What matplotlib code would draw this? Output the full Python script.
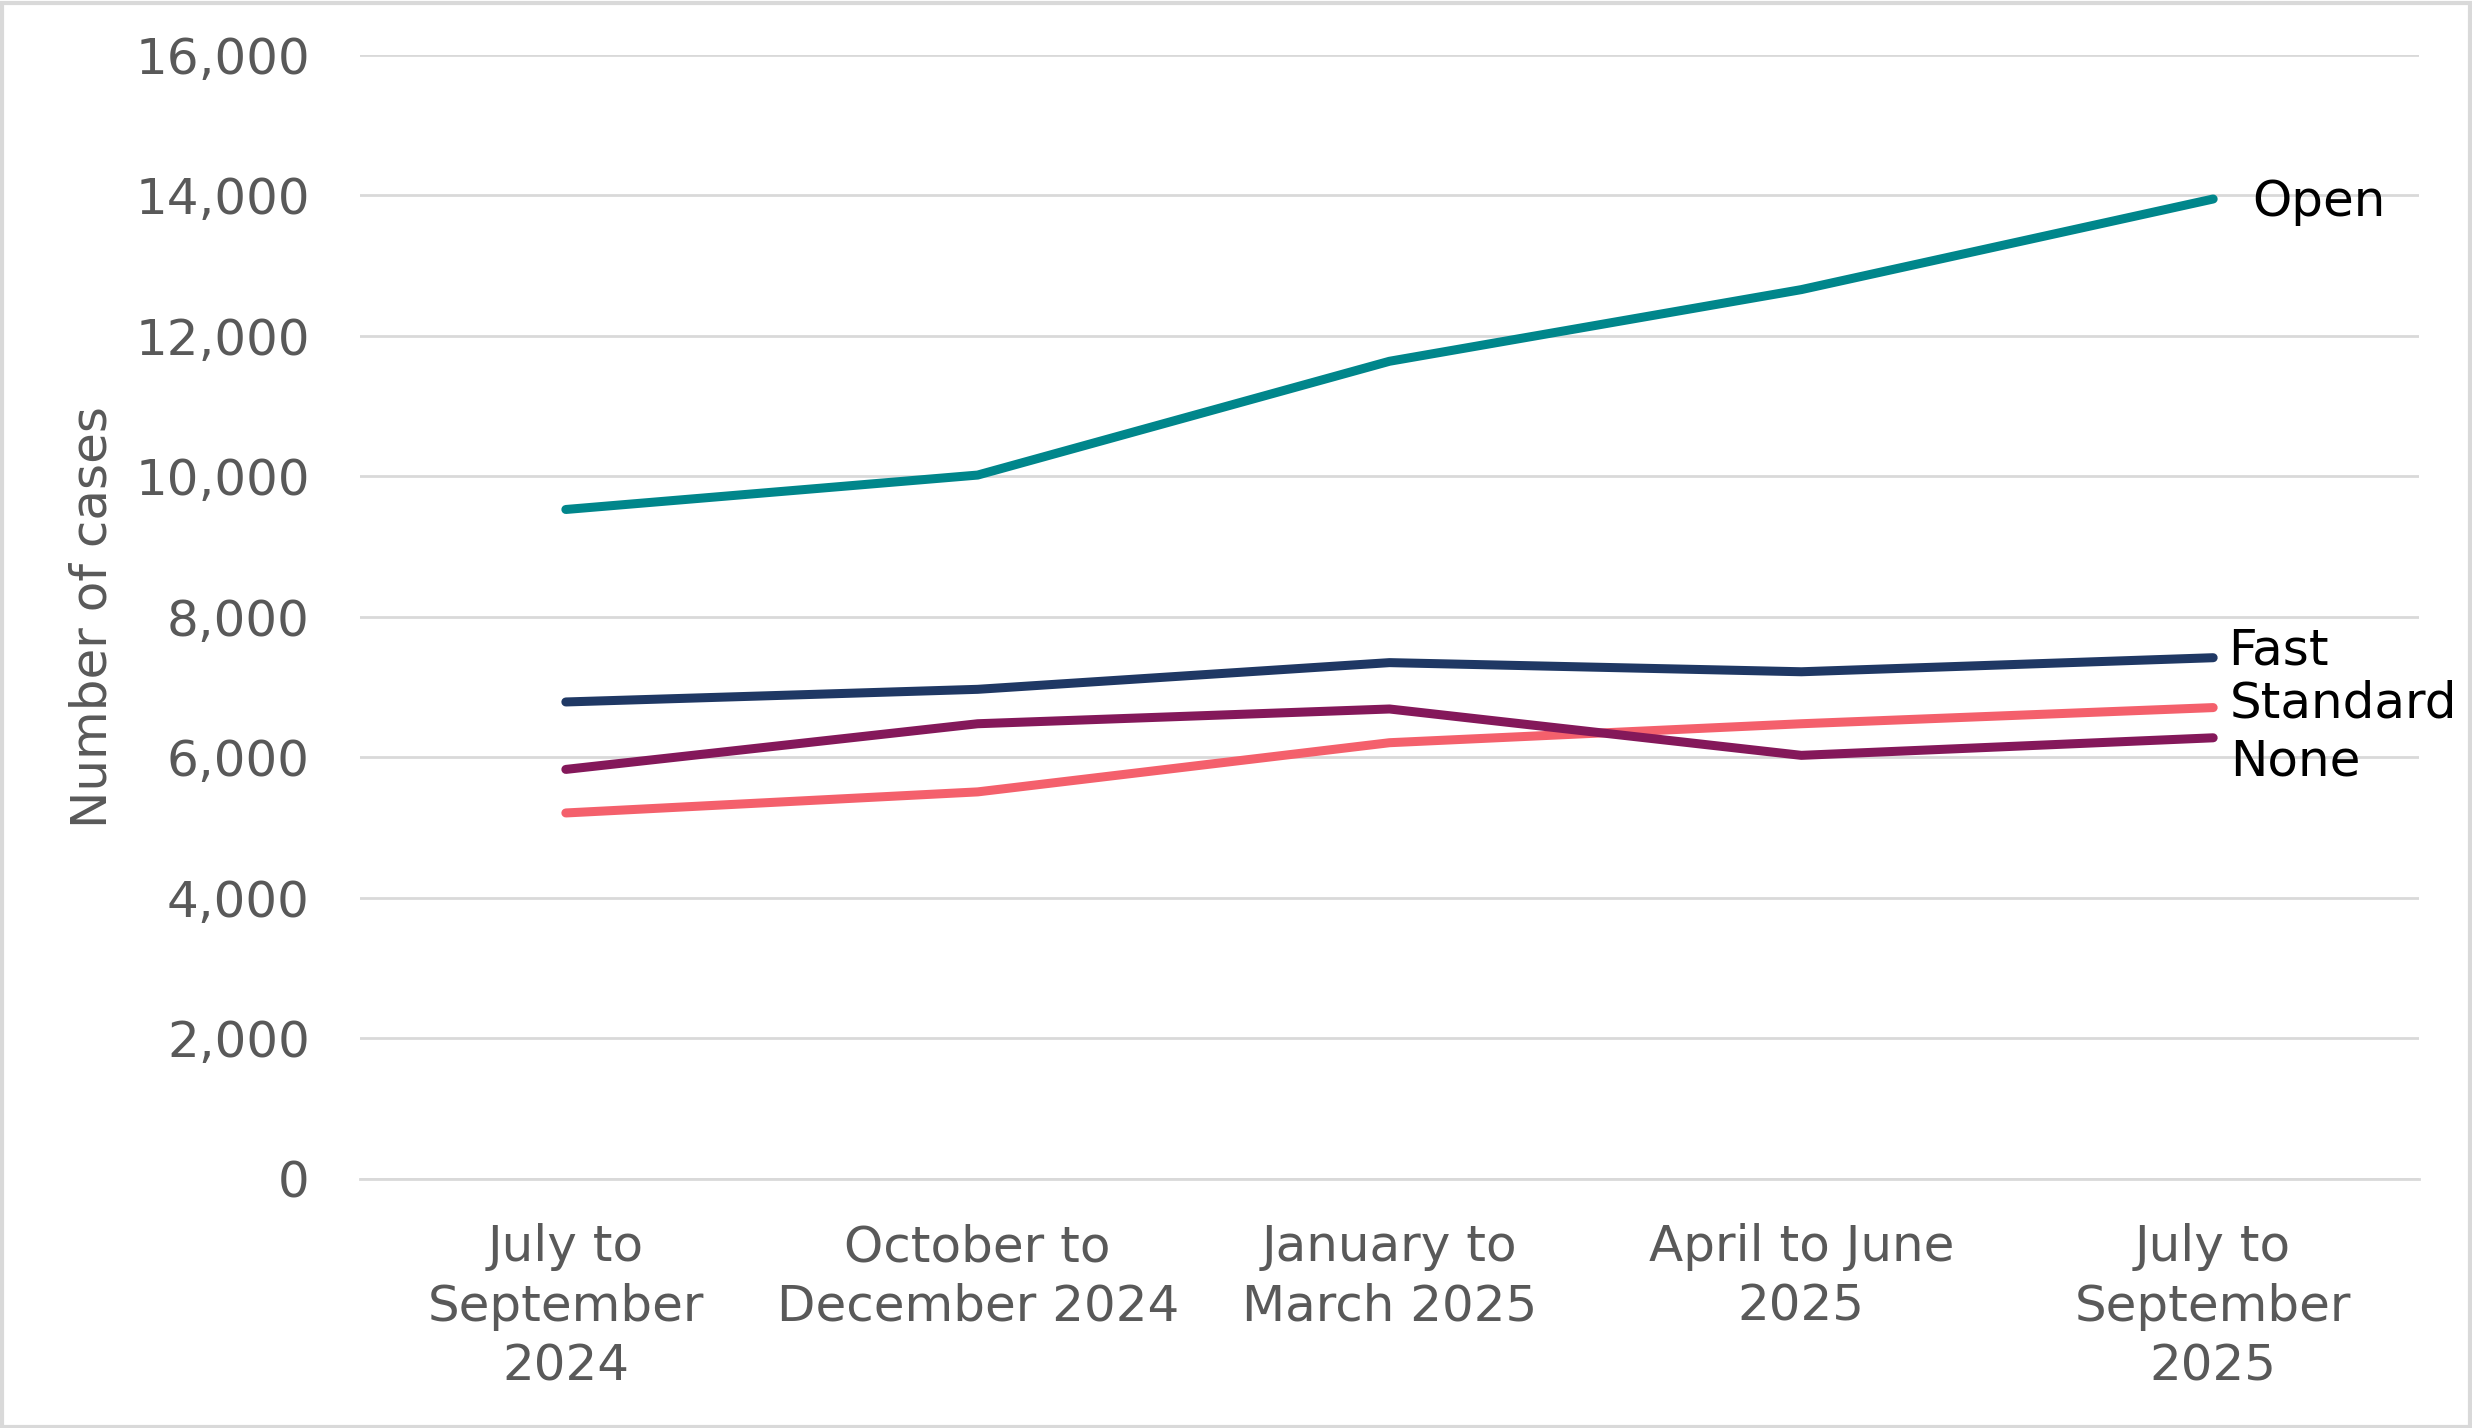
import matplotlib
matplotlib.use('Agg')
import matplotlib.pyplot as plt
from matplotlib.ticker import FuncFormatter
from matplotlib.patches import Rectangle

# quarters on the x axis
quarters = ['July to\nSeptember\n2024', 'October to\nDecember 2024', 'January to\nMarch 2025',
            'April to June\n2025', 'July to\nSeptember\n2025']

# values
open_cases = [9530, 10020, 11640, 12660, 13950]
fast_cases = [6790, 6970, 7350, 7220, 7420]
standard_cases = [5210, 5510, 6210, 6480, 6710]
none_cases = [5830, 6480, 6690, 6030, 6280]

series_names = ['Open', 'Fast', 'Standard', 'None']
series_colors = ['#00868B', '#1F3864', '#F4606C', '#84185A']
# label nudges in points (dx, dy)
label_offsets = [(28, -2), (11, 5), (12, 3), (12, -17)]

fig = plt.figure(figsize=(24.72, 14.28), dpi=100)
ax = fig.add_axes([0.1456, 0.1744, 0.833, 0.7871])

x = list(range(len(quarters)))
all_series = [open_cases, fast_cases, standard_cases, none_cases]
for vals, name, col, off in zip(all_series, series_names, series_colors, label_offsets):
    ax.plot(x, vals, color=col, linewidth=6.5, solid_capstyle='round', zorder=3)
    ax.annotate(name, xy=(x[-1], vals[-1]), xytext=off, textcoords='offset points',
                ha='left', va='center', fontsize=36, color='black')

ax.set_xlim(-0.5, 4.5)
ax.set_ylim(0, 16000)
ax.set_yticks(range(0, 16001, 2000))
ax.yaxis.set_major_formatter(FuncFormatter(lambda v, p: f'{int(v):,}'))
ax.set_xticks(x)
ax.set_xticklabels(quarters, linespacing=1.3)

ax.grid(axis='y', color='#D9D9D9', linewidth=2)
ax.set_axisbelow(True)
for s in ['top', 'right', 'left']:
    ax.spines[s].set_visible(False)
ax.spines['bottom'].set_color('#D9D9D9')
ax.spines['bottom'].set_linewidth(2)

ax.tick_params(axis='both', length=0, labelsize=36, labelcolor='#595959')
ax.tick_params(axis='y', pad=36)
ax.tick_params(axis='x', pad=32)

ax.set_ylabel('Number of cases', fontsize=36, color='#595959')
ax.yaxis.set_label_coords(-0.118, 0.5)

# light border round the whole figure
fig.patches.append(Rectangle((0.001, 0.001), 0.998, 0.997, transform=fig.transFigure,
                             fill=False, edgecolor='#D9D9D9', linewidth=3))

fig.savefig('out.png', dpi=100)
